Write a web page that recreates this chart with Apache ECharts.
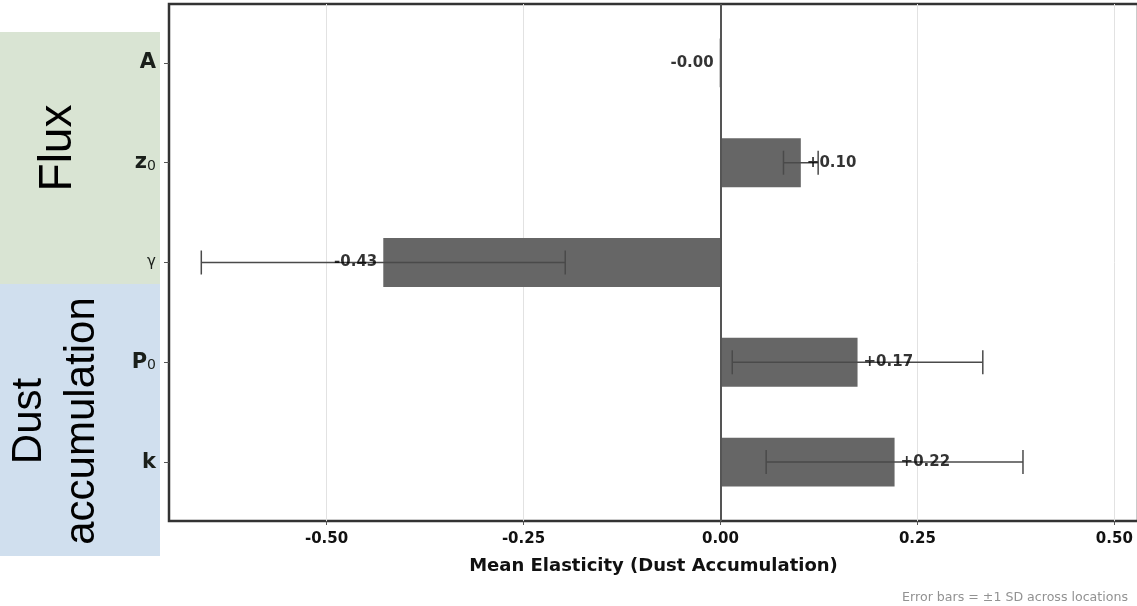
<!DOCTYPE html>
<html>
<head>
<meta charset="utf-8">
<script src="https://cdn.jsdelivr.net/npm/echarts@6/dist/echarts.min.js"></script>
<style>
html,body{margin:0;padding:0;background:#fff;}
#chart{width:1137px;height:606px;}
</style>
</head>
<body>
<div id="chart"></div>
<script>
// ---- data ----
const categories = ['A', 'z0', 'γ', 'P0', 'k'];
const means = [-0.001, 0.102, -0.428, 0.174, 0.221];
const sds = [0, 0.022, 0.231, 0.159, 0.163];
const xTicks = [-0.5, -0.25, 0, 0.25, 0.5];
const xLabels = ['-0.50', '-0.25', '0.00', '0.25', '0.50'];
const xName = 'Mean Elasticity (Dust Accumulation)';
const footnote = 'Error bars = ±1 SD across locations';
const groupNames = ['Flux', 'Dust\naccumulation'];

const X_MIN = -0.70, X_MAX = 0.53;
const GRID_LEFT = 169, GRID_WIDTH = 969;
const FONT = 'DejaVu Sans';

const chart = echarts.init(document.getElementById('chart'), null, {renderer: 'canvas'});

function catLabel(name) {
  if (name === 'γ') return '{g|γ}';
  if (name.length === 2 && name[1] === '0') return '{b|' + name[0] + '}{s|0}';
  return '{b|' + name + '}';
}
function fmtVal(v) {
  return (v >= 0 ? '+' : '') + v.toFixed(2);
}

const option = {
  animation: false,
  backgroundColor: '#ffffff',
  textStyle: {fontFamily: FONT},
  title: {
    text: footnote,
    right: 4, top: 586,
    textStyle: {fontFamily: FONT, fontSize: 12.6, fontWeight: 'normal', color: '#929292'}
  },
  graphic: [
    {type: 'rect', z: -10, shape: {x: 0, y: 32, width: 160, height: 252}, style: {fill: '#d9e4d3'}},
    {type: 'rect', z: -10, shape: {x: 0, y: 284, width: 160, height: 272}, style: {fill: '#d0dfee'}},
    {type: 'text', x: 58, y: 148, rotation: Math.PI / 2,
     style: {text: groupNames[0], font: '46px "Liberation Sans"', fill: '#000', align: 'center', verticalAlign: 'middle'}},
    {type: 'text', x: 56, y: 421, rotation: Math.PI / 2,
     style: {text: groupNames[1], font: '42px "Liberation Sans"', fill: '#000', align: 'center', verticalAlign: 'middle', lineHeight: 53}}
  ],
  grid: [
    {left: GRID_LEFT, width: GRID_WIDTH, top: 13, height: 499, containLabel: false, outerBoundsMode: 'none'},
    {left: GRID_LEFT, width: GRID_WIDTH, top: 4, height: 517, containLabel: false, outerBoundsMode: 'none',
     show: true, borderColor: '#333', borderWidth: 2.5, backgroundColor: 'transparent'}
  ],
  xAxis: [
    {gridIndex: 0, type: 'value', min: X_MIN, max: X_MAX, show: false, splitLine: {show: false}},
    {gridIndex: 1, type: 'value', min: X_MIN, max: X_MAX,
     axisLine: {show: false},
     splitLine: {show: false},
     axisTick: {show: true, length: 4, lineStyle: {color: '#555', width: 1}, customValues: xTicks},
     axisLabel: {show: true, customValues: xTicks, margin: 11,
       fontFamily: FONT, fontSize: 15, fontWeight: 'bold', color: '#111',
       formatter: function (v) {
         const i = xTicks.findIndex(t => Math.abs(t - v) < 1e-9);
         return i >= 0 ? xLabels[i] : '';
       }},
     name: xName, nameLocation: 'middle', nameGap: 36,
     nameTextStyle: {fontFamily: FONT, fontSize: 18, fontWeight: 'bold', color: '#111'}
    }
  ],
  yAxis: [
    {gridIndex: 0, type: 'category', data: categories, inverse: true,
     axisLine: {show: false, onZero: false},
     axisTick: {show: true, alignWithLabel: true, length: 5, lineStyle: {color: '#555', width: 1}},
     splitLine: {show: false},
     axisLabel: {margin: 13, formatter: catLabel,
       rich: {
         b: {fontFamily: FONT, fontSize: 21, fontWeight: 'bold', color: '#1a1f1a'},
         s: {fontFamily: FONT, fontSize: 14, fontWeight: 'normal', color: '#1a1f1a', verticalAlign: 'bottom', padding: [7, 0, 0, 0]},
         g: {fontFamily: FONT, fontSize: 15, fontWeight: 'normal', color: '#1a1f1a'}
       }}
    },
    {gridIndex: 1, type: 'value', min: 0, max: 1, show: false, splitLine: {show: false}}
  ],
  series: [
    {
      name: 'gridlines', type: 'scatter', xAxisIndex: 1, yAxisIndex: 1, z: 1,
      symbolSize: 0, silent: true, data: [[0, 0.5]],
      markLine: {
        z: 1, silent: true, symbol: ['none', 'none'], label: {show: false},
        lineStyle: {color: '#e2e2e2', width: 1, type: 'solid'},
        data: xTicks.filter(v => v !== 0).map(v => ({xAxis: v}))
      }
    },
    {
      name: 'zeroline', type: 'scatter', xAxisIndex: 1, yAxisIndex: 1, z: 5,
      symbolSize: 0, silent: true, data: [[0, 0.5]],
      markLine: {
        z: 5, silent: true, symbol: ['none', 'none'], label: {show: false},
        lineStyle: {color: '#555', width: 2, type: 'solid'},
        data: [{xAxis: 0}]
      }
    },
    {
      name: 'mean', type: 'bar', xAxisIndex: 0, yAxisIndex: 0, z: 2,
      data: means, barWidth: '49%',
      itemStyle: {color: '#666666'}
    },
    {
      name: 'sd', type: 'custom', xAxisIndex: 0, yAxisIndex: 0, z: 3,
      data: means.map((m, i) => [m - sds[i], m + sds[i], i]),
      encode: {x: [0, 1], y: 2},
      renderItem: function (params, api) {
        const lo = api.value(0), hi = api.value(1), c = api.value(2);
        if (hi - lo < 1e-9) return null;
        const p1 = api.coord([lo, c]);
        const p2 = api.coord([hi, c]);
        const h = 12;
        const st = {stroke: '#4a4a4a', lineWidth: 1.5};
        return {type: 'group', children: [
          {type: 'line', shape: {x1: p1[0], y1: p1[1], x2: p2[0], y2: p2[1]}, style: st},
          {type: 'line', shape: {x1: p1[0], y1: p1[1] - h, x2: p1[0], y2: p1[1] + h}, style: st},
          {type: 'line', shape: {x1: p2[0], y1: p2[1] - h, x2: p2[0], y2: p2[1] + h}, style: st}
        ]};
      }
    },
    {
      name: 'labels', type: 'scatter', xAxisIndex: 0, yAxisIndex: 0, z: 6,
      symbolSize: 0, silent: true,
      data: means.map((m, i) => ({value: [m, i], label: {position: m < 0 ? 'left' : 'right'}})),
      label: {show: true, distance: 6, fontFamily: FONT, fontSize: 15, fontWeight: 'bold', color: '#000',
        textBorderWidth: 0,
        formatter: function (p) { return fmtVal(p.value[0]); }}
    }
  ]
};
chart.setOption(option);
</script>
</body>
</html>
